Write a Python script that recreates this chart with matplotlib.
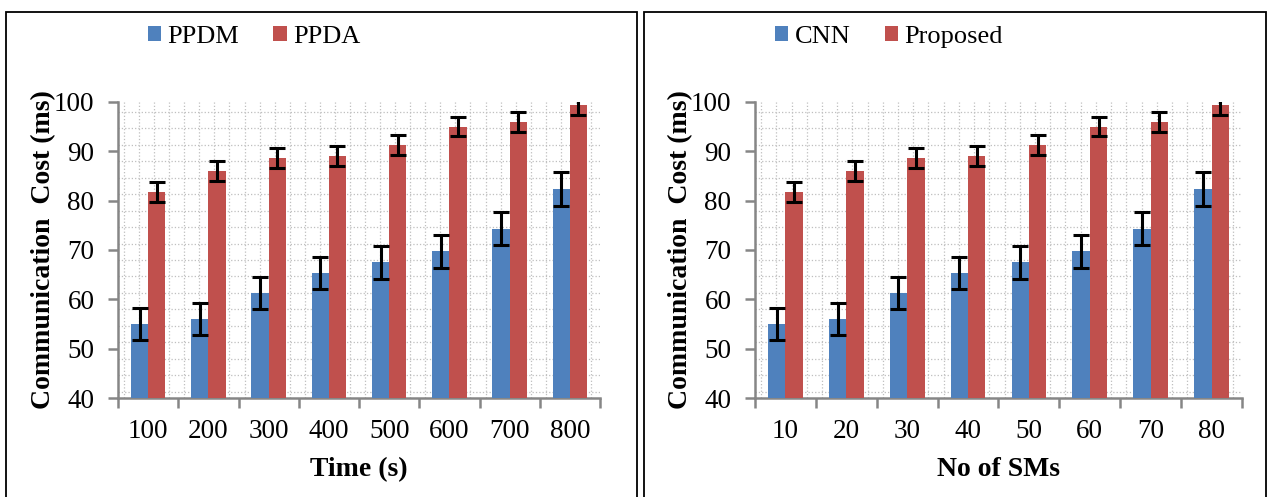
import numpy as np
import matplotlib
matplotlib.use("Agg")
import matplotlib.pyplot as plt
from matplotlib.ticker import MultipleLocator
from matplotlib.patches import Rectangle

plt.rcParams['font.family'] = ['Liberation Serif', 'DejaVu Serif']

# data
time_labels = ['100', '200', '300', '400', '500', '600', '700', '800']
sm_labels = ['10', '20', '30', '40', '50', '60', '70', '80']
base_vals = [55.0, 56.0, 61.3, 65.3, 67.5, 69.7, 74.3, 82.4]
base_err = [3.2, 3.2, 3.2, 3.3, 3.3, 3.3, 3.3, 3.4]
prop_vals = [81.8, 86.0, 88.7, 89.0, 91.3, 95.0, 96.0, 99.3]
prop_err = [2.0, 2.0, 2.0, 2.0, 2.0, 2.0, 2.0, 2.0]

BLUE = '#4F81BD'
RED = '#C0504D'
GRAY = '#868686'


def draw_panel(ax, labels, names, xlabel, leg_x):
    x = np.arange(len(labels))
    w = 0.286
    ekw = dict(ecolor='black', elinewidth=2.2, capsize=6, capthick=2.2)
    ax.bar(x - w / 2, base_vals, w, yerr=base_err, color=BLUE,
           label=names[0], error_kw=ekw, zorder=3)
    ax.bar(x + w / 2, prop_vals, w, yerr=prop_err, color=RED,
           label=names[1], error_kw=ekw, zorder=3)

    ax.set_xlim(-0.5, len(labels) - 0.5)
    ax.set_ylim(40, 100)
    ax.yaxis.set_major_locator(MultipleLocator(10))
    ax.set_xticks(x)
    ax.set_xticklabels(labels)
    ax.set_xticks(np.arange(-0.5, len(labels), 1.0), minor=True)

    # dotted excel-like grid
    for yv in np.arange(40, 100.01, 10 / 3):
        ax.axhline(yv + 1.3, color='#BFBFBF', lw=0.9, ls=':', zorder=1)
    for xv in np.arange(-0.5, len(labels), 0.25):
        ax.axvline(xv + 0.1, color='#BFBFBF', lw=0.9, ls=':', zorder=1)

    for s in ['top', 'right']:
        ax.spines[s].set_visible(False)
    for s in ['left', 'bottom']:
        ax.spines[s].set_color(GRAY)
        ax.spines[s].set_linewidth(1.8)

    ax.tick_params(axis='x', which='major', length=0, labelsize=19.5, pad=15)
    ax.tick_params(axis='x', which='minor', length=7, width=1.8, color=GRAY)
    ax.tick_params(axis='y', which='major', length=7, width=1.8,
                   color=GRAY, labelsize=19.5, pad=10)
    ax.tick_params(axis='y', which='minor', length=0)

    ax.set_ylabel('Communication  Cost (ms)', fontsize=20, fontweight='bold')
    ax.yaxis.set_label_coords(-0.128, 0.5)
    ax.set_xlabel(xlabel, fontsize=20, fontweight='bold')
    ax.xaxis.set_label_coords(0.5, -0.2)

    ax.legend(loc='center', bbox_to_anchor=(leg_x, 0.926),
              bbox_transform=fig.transFigure, ncol=2, frameon=False,
              fontsize=19, handlelength=0.5, handleheight=0.5,
              handletextpad=0.25, columnspacing=1.3)


fig = plt.figure(figsize=(12.68, 4.97), dpi=100)

# panel borders
fig.patches.append(Rectangle((6 / 1268, -0.1), 631 / 1268, 1.1 - 12 / 497,
                             transform=fig.transFigure, fill=False,
                             edgecolor='black', lw=1.3))
fig.patches.append(Rectangle((644 / 1268, -0.1), 622 / 1268, 1.1 - 12 / 497,
                             transform=fig.transFigure, fill=False,
                             edgecolor='black', lw=1.3))

ax1 = fig.add_axes([118 / 1268, 0.199, 482 / 1268, 0.596])
ax2 = fig.add_axes([755 / 1268, 0.199, 487 / 1268, 0.596])

draw_panel(ax1, time_labels, ['PPDM', 'PPDA'], 'Time (s)', 254 / 1268)
draw_panel(ax2, sm_labels, ['CNN', 'Proposed'], 'No of SMs', 889 / 1268)

fig.savefig('out.png', dpi=100)
